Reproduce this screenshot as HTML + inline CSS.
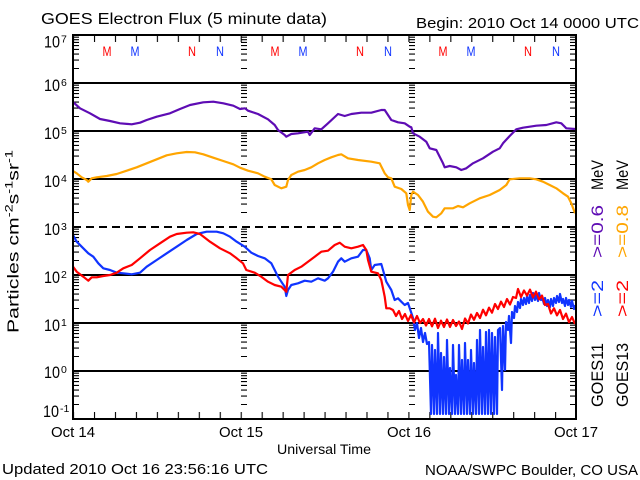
<!DOCTYPE html>
<html><head><meta charset="utf-8"><style>
html,body{margin:0;padding:0;background:#fff;}
svg{display:block;}
text{font-family:"Liberation Sans",sans-serif;fill:#000;}
</style></head><body>
<svg width="640" height="480" viewBox="0 0 640 480" xmlns="http://www.w3.org/2000/svg">
<defs>
<pattern id="ytk" patternUnits="userSpaceOnUse" x="0" y="35" width="640" height="48">
<path d="M0,2.2H640M0,4.7H640M0,7.4H640M0,10.6H640M0,14.4H640M0,19.1H640M0,25.1H640M0,33.5H640" stroke="#000" stroke-width="1.1" fill="none"/>
</pattern>
<pattern id="xtk" patternUnits="userSpaceOnUse" x="73" y="0" width="20.96" height="480">
<path d="M0.5,0V480" stroke="#000" stroke-width="1.2"/>
</pattern>
</defs>
<rect x="0" y="0" width="640" height="480" fill="#fff"/>

<!-- titles -->
<text x="41" y="24" font-size="16" textLength="286" lengthAdjust="spacingAndGlyphs">GOES Electron Flux (5 minute data)</text>
<text x="416" y="28" font-size="14.5" textLength="223" lengthAdjust="spacingAndGlyphs">Begin: 2010 Oct 14 0000 UTC</text>

<!-- grid lines -->
<g stroke="#000" stroke-width="2" fill="none">
<path d="M73,83H576M73,131H576M73,179H576M73,275H576M73,323H576M73,371H576"/>
<path d="M73,227H576" stroke-dasharray="8,5"/>
</g>

<!-- log ticks -->
<rect x="73" y="35" width="6" height="384" fill="url(#ytk)"/>
<rect x="241" y="35" width="6" height="384" fill="url(#ytk)"/>
<rect x="409" y="35" width="6" height="384" fill="url(#ytk)"/>
<rect x="570" y="35" width="6" height="384" fill="url(#ytk)"/>
<!-- time ticks -->
<rect x="73" y="412" width="503" height="7" fill="url(#xtk)"/>
<rect x="73" y="35" width="503" height="7" fill="url(#xtk)"/>

<!-- M/N markers -->
<g font-size="14" text-anchor="middle">
<text x="107" y="56" fill="#ff0000" style="fill:#ff0000" textLength="9" lengthAdjust="spacingAndGlyphs">M</text>
<text x="135" y="56" style="fill:#1034ff" textLength="9" lengthAdjust="spacingAndGlyphs">M</text>
<text x="192" y="56" style="fill:#ff0000" textLength="8" lengthAdjust="spacingAndGlyphs">N</text>
<text x="220" y="56" style="fill:#1034ff" textLength="8" lengthAdjust="spacingAndGlyphs">N</text>
<text x="275" y="56" style="fill:#ff0000" textLength="9" lengthAdjust="spacingAndGlyphs">M</text>
<text x="303" y="56" style="fill:#1034ff" textLength="9" lengthAdjust="spacingAndGlyphs">M</text>
<text x="360" y="56" style="fill:#ff0000" textLength="8" lengthAdjust="spacingAndGlyphs">N</text>
<text x="388" y="56" style="fill:#1034ff" textLength="8" lengthAdjust="spacingAndGlyphs">N</text>
<text x="443" y="56" style="fill:#ff0000" textLength="9" lengthAdjust="spacingAndGlyphs">M</text>
<text x="471" y="56" style="fill:#1034ff" textLength="9" lengthAdjust="spacingAndGlyphs">M</text>
<text x="528" y="56" style="fill:#ff0000" textLength="8" lengthAdjust="spacingAndGlyphs">N</text>
<text x="556" y="56" style="fill:#1034ff" textLength="8" lengthAdjust="spacingAndGlyphs">N</text>
</g>

<!-- data -->
<g fill="none" stroke-width="2.2" stroke-linejoin="round">
<path stroke="#5e0cb4" d="M73,102 L80,108.3 L90,113.3 L100,119 L110,121 L120,123.3 L131.7,124.3 L140,122.7 L146.7,120 L156.7,116.7 L170,113.3 L180,109 L190,105 L203.3,102.3 L213.3,101.7 L223.3,103.3 L233.3,105.7 L240,109 L245,108.3 L248,110.7 L258,114 L268,119.3 L274.7,125 L278,130 L284.7,135 L286.3,136.7 L291.3,134 L298,133.3 L308,131.7 L309.7,135 L314.7,128.3 L321.3,129.3 L328,123.3 L338,114 L344.7,116 L351.3,114 L361.3,112.7 L371.3,112.7 L381.3,110 L384.7,110 L391.3,120 L398,122.3 L404.7,123.3 L409.7,126.7 L411.3,127.3 L413,133.3 L419.7,136.7 L426.3,141.7 L429.7,148.3 L436.3,150 L439.7,156.7 L443,163.3 L444.7,167.3 L449.7,166 L456.3,167.3 L461.3,170 L466.3,168.3 L473,163.3 L483,158.3 L493,151.7 L499.7,148.3 L503,143.3 L509.7,136 L516.3,129.3 L523,127.7 L529.7,126.7 L536.3,125.7 L546.3,125 L556.3,122.3 L561.3,123.3 L566.3,128.3 L575,129"/>
<path stroke="#ffa500" d="M73,171 L76.7,173.3 L81.7,177.3 L86.7,180 L88.3,181.7 L91.7,178.3 L96.7,177.3 L106.7,176 L116.7,174 L126.7,170.7 L136.7,167.3 L146.7,163.3 L156.7,159.3 L166.7,155.3 L176.7,153.3 L186.7,152 L195,152.3 L203.3,154.3 L213.3,157.7 L223.3,161 L233.3,164.3 L240,167.7 L248,170.7 L258,173.3 L264.7,176.7 L271.3,179.3 L274.7,185 L281.3,188.3 L286.3,186.7 L288,180 L291.3,175 L298,171.7 L304.7,170 L311.3,167.3 L318,163.3 L324.7,160 L331.3,157.3 L338,155 L341.3,154.3 L348,158.3 L358,160 L371.3,161.7 L379.7,163.3 L384.7,173.3 L388,177.3 L391.3,178.3 L394.7,186.7 L401.3,189 L406.3,193.3 L408,205 L409.7,210 L411.3,195 L413,191.7 L418,195 L423,201.7 L428,211.7 L433,216.7 L436.3,217.3 L441.3,213.3 L444.7,208.3 L453,208.3 L458,206 L463,207.3 L469.7,203.3 L479.7,198.3 L489.7,195 L499.7,190 L506.3,185 L509.7,179.3 L519.7,178.3 L529.7,178.3 L536.3,179.3 L543,181.7 L549.7,185 L556.3,188.3 L563,193.3 L568,196.7 L571.3,203.3 L575,213.3"/>
<path stroke="#1034ff" d="M73,235 L76.7,241.7 L83.3,248.3 L88.3,253.3 L93.3,256.7 L98.3,263.3 L103.3,268.3 L110,270 L116.7,272.7 L123.3,273.3 L131.7,274.3 L140,272.7 L146.7,266.7 L156.7,260 L166.7,253.3 L176.7,246.7 L186.7,240 L196.7,234 L206.7,231.7 L216.7,231.7 L223.3,233.3 L230,236.7 L236.7,241.7 L244.7,246.7 L251.3,252.7 L258,256 L264.7,258.3 L271.3,263.3 L274.7,270 L278,276.7 L281.3,281.7 L284.7,286.7 L286.3,296 L288,290 L291.3,285 L298,283.3 L304.7,280.7 L311.3,281.7 L318,278.3 L324.7,280.7 L328,278.3 L333,271.7 L338,261.7 L341.3,258.3 L344.7,261.7 L351.3,258.3 L358,256.7 L363,250 L366.3,250 L369.7,258.3 L371.3,270 L374.7,265 L381.3,264 L383,270 L386.3,281.7 L391.3,290 L394.7,300 L398,298.3 L401.3,301.7 L404.7,305 L408,303 L411,312 L413,318 L415,330 L417,323 L419,338 L421,328 L423,342 L425,333 L427,344 L429,342 L431,414 L432,345 L434,414 L435,350 L437,414 L438,333 L440,414 L441,353 L443,414 L444,357 L446,414 L447,340 L449,414 L450,368 L452,414 L453,345 L455,414 L456,375 L458,414 L459,345 L461,414 L462,360 L464,414 L465,343 L467,414 L468,360 L470,414 L471,350 L473,414 L474,363 L476,414 L477,340 L479,414 L480,330 L482,414 L483,347 L485,414 L486,332 L488,414 L489,330 L491,414 L492,333 L494,414 L495,337 L497,414 L498,330 L500,328 L502,390 L503,326 L505,370 L506,322 L508,330 L509,316 L511,343 L512,312 L514,318 L515,306 L517,312 L518,302 L520,308 L521,299 L523,305 L524,298 L526,304 L527,296 L529,303 L530,295 L532,301 L533,293 L535,300 L536,294 L538,301 L539,293 L541,300 L542,297 L544,304 L545,298 L547,306 L548,300 L550,307 L551,299 L553,306 L554,298 L556,303 L557,296 L559,302 L560,294 L562,303 L563,299 L565,306 L566,298 L568,305 L569,300 L571,307 L572,301 L574,309 L575,305"/>
<path stroke="#ff0000" d="M73,266.7 L76.7,271.7 L83.3,276.7 L88.3,280.7 L91.7,277.3 L96.7,277.3 L103.3,276 L110,275 L116.7,272.7 L123.3,268.3 L131.7,265 L140,258.3 L150,250 L160,243.3 L170,236.7 L176.7,234 L186.7,232.7 L193.3,232.3 L200,234 L210,241.7 L220,248.3 L230,253.3 L236.7,258.3 L243,263.3 L246.3,270 L254.7,272.7 L261.3,276.7 L268,281.7 L274.7,285 L281.3,286.7 L286.3,291.7 L288,275 L294.7,270 L301.3,266.7 L308,261.7 L314.7,256.7 L321.3,251.7 L328,250.7 L334.7,245 L339.7,242.7 L344.7,246.7 L351.3,248.3 L358,246.7 L363,245 L366.3,250 L368,260 L371.3,271.7 L378,273.3 L381.3,280 L384.7,296.7 L386.3,308.3 L389.7,308.3 L393,310 L396,316 L399,311 L402,319 L405,314 L408,321 L411,315 L414,322.5 L417,316 L420,323 L423,319 L426,325.5 L429,319 L432,326.3 L435,318.7 L438,328 L441,320.7 L444,327 L447,319.5 L450,327 L453,320 L456,326 L459,321.5 L462,329 L465,318.5 L468,323.5 L471,314.5 L474,319.8 L477,313 L480,318 L483,309.7 L486,315.3 L489,307.7 L492,312.7 L495,304 L498,309 L501,301.7 L504,307 L507,299 L510,304.5 L513,297 L516,298 L518,289 L521,297 L524,290.5 L527,295.6 L530,289.6 L533,297.4 L536,291.6 L539,299.4 L542,295.6 L545,305 L548,304 L551,313.5 L554,308.3 L557,315.4 L560,310 L563,319 L566,313.6 L569,322.2 L572,317 L575,324"/>
</g>

<!-- axes box -->
<rect x="73" y="35" width="503" height="384" fill="none" stroke="#000" stroke-width="2"/>

<!-- y tick labels -->
<g font-size="16.5">
<text x="44" y="47.5" textLength="16" lengthAdjust="spacingAndGlyphs">10</text>
<text x="44" y="91" textLength="16" lengthAdjust="spacingAndGlyphs">10</text>
<text x="44" y="139" textLength="16" lengthAdjust="spacingAndGlyphs">10</text>
<text x="44" y="187" textLength="16" lengthAdjust="spacingAndGlyphs">10</text>
<text x="44" y="235" textLength="16" lengthAdjust="spacingAndGlyphs">10</text>
<text x="44" y="283" textLength="16" lengthAdjust="spacingAndGlyphs">10</text>
<text x="44" y="331" textLength="16" lengthAdjust="spacingAndGlyphs">10</text>
<text x="44" y="378" textLength="16" lengthAdjust="spacingAndGlyphs">10</text>
<text x="43" y="417" textLength="16" lengthAdjust="spacingAndGlyphs">10</text>
</g>
<g font-size="10.5">
<text x="61" y="42.5">7</text>
<text x="61" y="86">6</text>
<text x="61" y="134">5</text>
<text x="61" y="182">4</text>
<text x="61" y="230">3</text>
<text x="61" y="278">2</text>
<text x="61" y="326">1</text>
<text x="61" y="373">0</text>
<text x="60" y="412">-1</text>
</g>

<!-- y axis label -->
<text transform="translate(18.5,333) rotate(-90)" font-size="16" textLength="183" lengthAdjust="spacingAndGlyphs">Particles cm<tspan dy="-6" font-size="11">-2</tspan><tspan dy="6">s</tspan><tspan dy="-6" font-size="11">-1</tspan><tspan dy="6">sr</tspan><tspan dy="-6" font-size="11">-1</tspan></text>

<!-- x labels -->
<g font-size="14.5" text-anchor="middle">
<text x="73" y="437" textLength="44" lengthAdjust="spacingAndGlyphs">Oct 14</text>
<text x="241" y="437" textLength="44" lengthAdjust="spacingAndGlyphs">Oct 15</text>
<text x="409" y="437" textLength="44" lengthAdjust="spacingAndGlyphs">Oct 16</text>
<text x="576" y="437" textLength="44" lengthAdjust="spacingAndGlyphs">Oct 17</text>
</g>
<text x="277" y="454" font-size="14" textLength="94" lengthAdjust="spacingAndGlyphs">Universal Time</text>
<text x="2" y="474" font-size="14.5" textLength="266" lengthAdjust="spacingAndGlyphs">Updated 2010 Oct 16 23:56:16 UTC</text>
<text x="425" y="475" font-size="14.5" textLength="213" lengthAdjust="spacingAndGlyphs">NOAA/SWPC Boulder, CO USA</text>

<!-- legend (rotated) -->
<g font-size="17">
<text transform="translate(603,407) rotate(-90)" textLength="64" lengthAdjust="spacingAndGlyphs">GOES11</text>
<text transform="translate(603,317) rotate(-90)" textLength="37" lengthAdjust="spacingAndGlyphs" style="fill:#1034ff">&gt;=2</text>
<text transform="translate(603,258) rotate(-90)" textLength="53" lengthAdjust="spacingAndGlyphs" style="fill:#5e0cb4">&gt;=0.6</text>
<text transform="translate(603,190) rotate(-90)" textLength="30" lengthAdjust="spacingAndGlyphs">MeV</text>
<text transform="translate(628,407) rotate(-90)" textLength="64" lengthAdjust="spacingAndGlyphs">GOES13</text>
<text transform="translate(628,317) rotate(-90)" textLength="37" lengthAdjust="spacingAndGlyphs" style="fill:#ff0000">&gt;=2</text>
<text transform="translate(628,258) rotate(-90)" textLength="53" lengthAdjust="spacingAndGlyphs" style="fill:#ffa500">&gt;=0.8</text>
<text transform="translate(628,190) rotate(-90)" textLength="30" lengthAdjust="spacingAndGlyphs">MeV</text>
</g>
</svg>
</body></html>
